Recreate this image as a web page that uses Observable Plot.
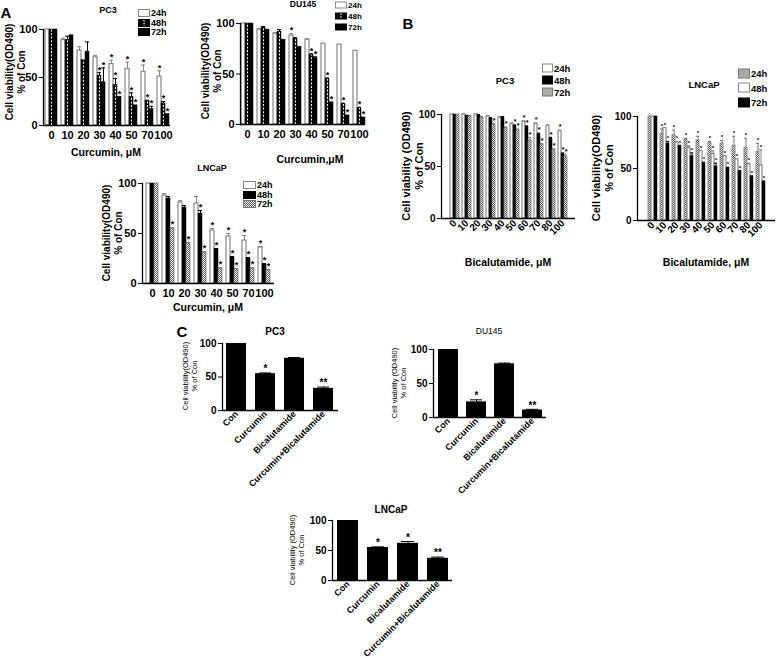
<!DOCTYPE html>
<html><head><meta charset="utf-8">
<script src="https://cdn.jsdelivr.net/npm/d3@7"></script>
<script src="https://cdn.jsdelivr.net/npm/@observablehq/plot@0.6"></script>
<style>
body{margin:0;background:#fff;}
#fig{position:relative;width:778px;height:658px;overflow:hidden;background:#fff;font-family:"Liberation Sans",Arial,Helvetica,sans-serif;color:#000;}
.abs{position:absolute;white-space:nowrap;}
#fig svg.p{position:absolute;overflow:visible;background:transparent;}
</style></head>
<body>
<svg width="0" height="0" style="position:absolute">
<defs>
<pattern id="chk" width="2" height="2" patternUnits="userSpaceOnUse">
<rect width="2" height="2" fill="#fff"/><rect width="1" height="1" fill="#555"/><rect x="1" y="1" width="1" height="1" fill="#555"/>
</pattern>
</defs></svg>
<div id="fig"></div>
<script>
// ---------- DATA ----------
const curcuminDoses = ["0","10","20","30","40","50","70","100"];
const bicaDoses = ["0","10","20","30","40","50","60","70","80","100"];
const times = ["24h","48h","72h"];
const treatments = ["Con","Curcumin","Bicalutamide","Curcumin+Bicalutamide"];

// A - PC3 (curcumin)
const aPC3_24h = [100, 89, 78, 71, 64, 59, 56, 51];
const aPC3_48h = [100, 89, 68, 52, 42, 30, 26, 23];
const aPC3_72h = [100, 94, 77, 45, 30, 21, 17, 12];
const aPC3_24hErr = [0, 2, 4, 2, 4, 7, 7, 6];
const aPC3_48hErr = [0, 4, 0, 3, 7, 4, 0, 2];
const aPC3_72hErr = [0, 0, 10, 15, 0, 0, 3, 0];
const aPC3_24hSig = [0, 0, 0, 0, 1, 1, 1, 1];
const aPC3_48hSig = [0, 0, 0, 1, 1, 1, 1, 1];
const aPC3_72hSig = [0, 0, 0, 1, 1, 1, 1, 1];

// A - DU145 (curcumin)
const aDU_24h = [100, 94, 90, 88, 84, 80, 79, 73];
const aDU_48h = [100, 96, 92, 85, 69, 45, 20, 16];
const aDU_72h = [100, 94, 84, 77, 66, 22, 9, 7];
const aDU_24hErr = [0, 1, 1, 2, 1, 0, 0, 0];
const aDU_48hErr = [0, 1, 2, 1, 1, 1, 1, 1];
const aDU_72hErr = [0, 0, 0, 0, 1, 0, 0, 0];
const aDU_24hSig = [0, 0, 0, 1, 0, 0, 0, 0];
const aDU_48hSig = [0, 0, 0, 0, 1, 1, 1, 1];
const aDU_72hSig = [0, 0, 0, 0, 1, 1, 1, 1];

// A - LNCaP (curcumin)
const aLN_24h = [100, 88, 81, 80, 53, 47, 43, 36];
const aLN_48h = [100, 85, 76, 70, 34, 26, 25, 19];
const aLN_72h = [100, 55, 40, 31, 15, 14, 15, 13];
const aLN_24hErr = [0, 2, 2, 7, 2, 3, 5, 1];
const aLN_48hErr = [0, 2, 2, 3, 1, 1, 1, 1];
const aLN_72hErr = [0, 1, 1, 1, 1, 1, 1, 1];
const aLN_24hSig = [0, 0, 0, 0, 1, 1, 1, 1];
const aLN_48hSig = [0, 0, 0, 1, 1, 1, 1, 1];
const aLN_72hSig = [0, 1, 1, 1, 1, 1, 1, 1];

// B - PC3 (bicalutamide)
const bPC3_24h = [100, 100, 100, 98, 97, 91, 93, 91, 89, 84];
const bPC3_48h = [100, 99, 99, 96, 97, 89, 88, 81, 77, 62];
const bPC3_72h = [100, 98, 97, 90, 87, 85, 75, 71, 66, 59];
const bPC3_24hErr = [0, 1, 1, 1, 1, 1, 1, 1, 1, 1];
const bPC3_48hErr = [0, 0, 1, 1, 1, 1, 1, 1, 1, 1];
const bPC3_72hErr = [0, 1, 1, 1, 1, 1, 3, 1, 1, 2];
const bPC3_24hSig = [0, 0, 0, 0, 0, 0, 1, 1, 0, 1];
const bPC3_48hSig = [0, 0, 0, 0, 0, 1, 1, 1, 1, 1];
const bPC3_72hSig = [0, 0, 0, 1, 1, 1, 1, 1, 1, 1];

// B - LNCaP (bicalutamide)
const bLN_24h = [100, 83, 82, 78, 77, 75, 74, 72, 70, 66];
const bLN_48h = [100, 89, 75, 70, 67, 64, 62, 59, 54, 53];
const bLN_72h = [100, 74, 72, 62, 55, 52, 51, 47, 42, 37];
const bLN_24hErr = [0, 5, 5, 1, 4, 1, 3, 9, 9, 8];
const bLN_48hErr = [0, 0, 1, 2, 0, 3, 0, 0, 1, 15];
const bLN_72hErr = [0, 2, 0, 3, 1, 3, 0, 1, 1, 1];
const bLN_24hSig = [0, 1, 1, 1, 1, 1, 1, 1, 1, 1];
const bLN_48hSig = [0, 1, 1, 1, 1, 1, 1, 1, 1, 1];
const bLN_72hSig = [0, 1, 1, 1, 1, 1, 1, 1, 1, 1];

// C - combination
const cPC3 = [100, 55, 78, 33];
const cPC3Err = [0, 1, 1, 2];
const cPC3Sig = ["", "*", "", "**"];
const cDU = [100, 23, 79, 11];
const cDUErr = [0, 3, 1, 1];
const cDUSig = ["", "*", "", "**"];
const cLN = [100, 55, 62, 37];
const cLNErr = [0, 1, 3, 2];
const cLNSig = ["", "*", "*", "**"];

// ---------- STYLES ----------
const FONT = '"Liberation Sans", Arial, Helvetica, sans-serif';
const ST = {
  white: {fill: "#fff", stroke: "#888", sw: 1.2, err: "#888"},
  black: {fill: "#000", stroke: "#000", sw: 0.5, err: "#000"},
  dash:  {fill: "#000", stroke: "#000", sw: 0.5, err: "#000", dash: true},
  chk:   {fill: "url(#chk)", stroke: "#777", sw: 0.8, err: "#777"}
};
const fig = document.getElementById("fig");

function addText(html, x, y, o = {}) {
  const d = document.createElement("div");
  d.className = "abs";
  d.style.left = x + "px"; d.style.top = y + "px";
  d.style.fontSize = (o.size || 10) + "px";
  d.style.fontWeight = o.weight || "bold";
  d.style.lineHeight = (o.lh || 1.15);
  d.style.textAlign = "center";
  const tx = o.anchor === "start" ? "0" : o.anchor === "end" ? "-100%" : "-50%";
  d.style.transform = `translate(${tx},-50%)` + (o.rotate ? ` rotate(${o.rotate}deg)` : "");
  d.innerHTML = html;
  fig.appendChild(d);
}

function swatch(st, w, h) {
  let s = `<svg width="${w}" height="${h}" style="vertical-align:middle;overflow:visible"><rect x="0.5" y="0.5" width="${w-1}" height="${h-1}" fill="${st.fill}" stroke="${st.stroke}" stroke-width="1"/>`;
  if (st.dash) s += `<line x1="${w/2}" x2="${w/2}" y1="1" y2="${h-1}" stroke="#fff" stroke-width="1.2" stroke-dasharray="1.5,1.2"/>`;
  return s + `</svg>`;
}
function legend(x, y, labels, styles, o) {
  labels.forEach((lab, i) => {
    const d = document.createElement("div");
    d.className = "abs";
    d.style.left = x + "px"; d.style.top = (y + i * o.gap) + "px";
    d.style.transform = "translateY(-50%)";
    d.style.fontSize = o.size + "px"; d.style.fontWeight = "bold";
    d.style.display = "flex"; d.style.alignItems = "center"; d.style.gap = "1px";
    d.innerHTML = swatch(styles[i], o.w, o.h) + `<span>${lab}</span>`;
    fig.appendChild(d);
  });
}

function place(svg, left, top) {
  svg.classList.add("p");
  svg.style.left = left + "px"; svg.style.top = top + "px";
  fig.appendChild(svg);
}

function grouped(cfg) {
  const rows = [], domain = [], mids = [];
  cfg.cats.forEach((c, i) => {
    cfg.series.forEach((s, j) => {
      const key = c + "|" + s;
      domain.push(key);
      if (j === 1) mids.push(key);
      rows.push({key, j, v: cfg.vals[j][i], e: cfg.errs[j][i], sig: cfg.sigs[j][i]});
    });
    if (i < cfg.cats.length - 1) domain.push("gap" + i);
  });
  const marks = [];
  cfg.series.forEach((s, j) => {
    const st = cfg.styles[j];
    const data = rows.filter(r => r.j === j);
    marks.push(Plot.barY(data, {x: "key", y: "v", fill: st.fill, stroke: st.stroke, strokeWidth: st.sw}));
    if (st.dash) marks.push(Plot.ruleX(data, {x: "key", y1: 0, y2: "v", stroke: "#fff", strokeWidth: 1.1, strokeDasharray: "2,1.6"}));
    const ed = data.filter(r => r.e > 0);
    marks.push(Plot.ruleX(ed, {x: "key", y1: "v", y2: d => d.v + d.e, stroke: st.err, strokeWidth: 1}));
    marks.push(Plot.tickY(ed, {x: "key", y: d => d.v + d.e, stroke: st.err, strokeWidth: 1}));
    marks.push(Plot.text(data.filter(r => r.sig), {x: "key", y: d => d.v + d.e, text: () => "*", dy: -3, lineAnchor: "middle", fontSize: cfg.starSize || 9, fontWeight: "bold"}));
  });
  marks.push(Plot.ruleY([0], {stroke: "#000", strokeWidth: 1.3}));
  marks.push(Plot.frame({anchor: "left", stroke: "#000", strokeWidth: 1.3}));
  marks.push(Plot.axisY({ticks: [0, 50, 100], tickSize: 4, tickPadding: 2, label: null}));
  marks.push(Plot.axisX({ticks: mids, tickFormat: k => k.split("|")[0], tickSize: 0,
    tickPadding: cfg.tickPadding || 6, tickRotate: cfg.rotate || 0, label: null}));
  const svg = Plot.plot({
    width: cfg.width, height: cfg.height,
    marginLeft: cfg.mL, marginRight: cfg.mR, marginTop: cfg.mT, marginBottom: cfg.mB,
    x: {type: "band", domain, paddingInner: 0.12, paddingOuter: 0.05},
    y: {domain: [0, 100]},
    style: {fontFamily: FONT, fontSize: (cfg.tickSize || 11) + "px", fontWeight: "bold", color: "#000", background: "transparent"},
    marks
  });
  place(svg, cfg.left, cfg.top);
}

function simple(cfg) {
  const rows = cfg.cats.map((c, i) => ({c, v: cfg.vals[i], e: cfg.errs[i], sig: cfg.sigs[i]}));
  const ed = rows.filter(r => r.e > 0);
  const svg = Plot.plot({
    width: cfg.width, height: cfg.height,
    marginLeft: cfg.mL, marginRight: cfg.mR, marginTop: cfg.mT, marginBottom: cfg.mB,
    x: {type: "band", domain: cfg.cats, paddingInner: 0.3, paddingOuter: 0.15},
    y: {domain: [0, 100]},
    style: {fontFamily: FONT, fontSize: "10px", fontWeight: "bold", color: "#000", background: "transparent"},
    marks: [
      Plot.barY(rows, {x: "c", y: "v", fill: "#000"}),
      Plot.ruleX(ed, {x: "c", y1: "v", y2: d => d.v + d.e, stroke: "#000", strokeWidth: 1}),
      Plot.tickY(ed, {x: "c", y: d => d.v + d.e, stroke: "#000", strokeWidth: 1, insetLeft: 4, insetRight: 4}),
      Plot.text(rows.filter(r => r.sig), {x: "c", y: d => d.v + d.e, text: "sig", dy: -4, lineAnchor: "middle", fontSize: 10, fontWeight: "bold"}),
      Plot.ruleY([0], {stroke: "#000", strokeWidth: 1.3}),
      Plot.frame({anchor: "left", stroke: "#000", strokeWidth: 1.3}),
      Plot.axisY({ticks: [0, 50, 100], tickSize: 4, tickPadding: 2, label: null}),
      Plot.axisX({tickSize: 0, tickPadding: 2, tickRotate: -45, label: null, fontSize: 9})
    ]
  });
  place(svg, cfg.left, cfg.top);
}

// ---------- PANEL A ----------
addText("A", 6, 13, {size: 15});
grouped({cats: curcuminDoses, series: times,
  vals: [aPC3_24h, aPC3_48h, aPC3_72h], errs: [aPC3_24hErr, aPC3_48hErr, aPC3_72hErr], sigs: [aPC3_24hSig, aPC3_48hSig, aPC3_72hSig],
  styles: [ST.white, ST.dash, ST.black],
  left: 0, top: 0, width: 175, height: 165, mL: 43, mR: 5, mT: 29, mB: 40});
addText("PC3", 108, 10, {size: 9});
legend(138, 13, times, [ST.white, ST.dash, ST.black], {gap: 9.5, size: 9, w: 12, h: 8});
addText("Cell viability(OD490)<br>% of Con", 16, 72, {size: 10, rotate: -90, lh: 1.2});
addText("Curcumin, \u03bcM", 106, 152, {size: 10.5});

grouped({cats: curcuminDoses, series: times,
  vals: [aDU_24h, aDU_48h, aDU_72h], errs: [aDU_24hErr, aDU_48hErr, aDU_72hErr], sigs: [aDU_24hSig, aDU_48hSig, aDU_72hSig],
  styles: [ST.white, ST.dash, ST.black],
  left: 195, top: 0, width: 175, height: 150, mL: 45, mR: 5, mT: 23, mB: 26});
addText("DU145", 303, 5, {size: 8.5});
legend(335, 5, times, [ST.white, ST.dash, ST.black], {gap: 11, size: 8, w: 12, h: 7});
addText("Cell viability(OD490)<br>% of Con", 212, 71, {size: 10, rotate: -90, lh: 1.2});
addText("Curcumin,\u03bcM", 310, 159, {size: 10.5});

grouped({cats: curcuminDoses, series: times,
  vals: [aLN_24h, aLN_48h, aLN_72h], errs: [aLN_24hErr, aLN_48hErr, aLN_72hErr], sigs: [aLN_24hSig, aLN_48hSig, aLN_72hSig],
  styles: [ST.white, ST.black, ST.chk],
  left: 95, top: 170, width: 185, height: 135, mL: 47, mR: 6, mT: 13, mB: 22});
addText("LNCaP", 212, 168, {size: 9});
legend(243, 185, times, [ST.white, ST.black, ST.chk], {gap: 9.5, size: 9, w: 13, h: 8});
addText("Cell viability(OD490)<br>% of Con", 113, 233, {size: 10, rotate: -90, lh: 1.2});
addText("Curcumin, \u03bcM", 208, 307, {size: 10.5});

// ---------- PANEL B ----------
addText("B", 408, 24, {size: 15});
grouped({cats: bicaDoses, series: times,
  vals: [bPC3_24h, bPC3_48h, bPC3_72h], errs: [bPC3_24hErr, bPC3_48hErr, bPC3_72hErr], sigs: [bPC3_24hSig, bPC3_48hSig, bPC3_72hSig],
  styles: [ST.white, ST.black, ST.chk], rotate: -45, tickPadding: 3, tickSize: 10, starSize: 7,
  left: 420, top: 100, width: 165, height: 160, mL: 21, mR: 10, mT: 14, mB: 42});
addText("PC3", 505, 81, {size: 9.5});
legend(542, 68, times, [ST.white, ST.black, ST.chk], {gap: 12, size: 9.5, w: 11, h: 9});
addText("Cell viability (OD490)<br>% of Con", 413, 166, {size: 11, rotate: -90, lh: 1.15});
addText("Bicalutamide, \u03bcM", 508, 262, {size: 10.5});

grouped({cats: bicaDoses, series: times,
  vals: [bLN_24h, bLN_48h, bLN_72h], errs: [bLN_24hErr, bLN_48hErr, bLN_72hErr], sigs: [bLN_24hSig, bLN_48hSig, bLN_72hSig],
  styles: [ST.chk, ST.white, ST.black], rotate: -45, tickPadding: 3, tickSize: 10, starSize: 6,
  left: 615, top: 100, width: 163, height: 160, mL: 22, mR: 3, mT: 16, mB: 40});
addText("LNCaP", 704, 85, {size: 9.5});
legend(738, 73, times, [ST.chk, ST.white, ST.black], {gap: 14.5, size: 9.5, w: 12, h: 10});
addText("Cell viability(OD490)<br>% of Con", 603, 168, {size: 11, rotate: -90, lh: 1.15});
addText("Bicalutamide, \u03bcM", 706, 262, {size: 10.5});

// ---------- PANEL C ----------
addText("C", 182, 332, {size: 15});
simple({cats: treatments, vals: cPC3, errs: cPC3Err, sigs: cPC3Sig,
  left: 195, top: 330, width: 150, height: 170, mL: 27, mR: 7, mT: 13, mB: 90});
addText("PC3", 275, 332, {size: 10});
addText("Cell viability(OD490)<br>% of Con", 190, 376, {size: 7.5, weight: "normal", rotate: -90, lh: 1.2});

simple({cats: treatments, vals: cDU, errs: cDUErr, sigs: cDUSig,
  left: 405, top: 330, width: 150, height: 170, mL: 28, mR: 9, mT: 19, mB: 83});
addText("DU145", 489, 332, {size: 8.5, weight: "normal"});
addText("Cell viability (OD490)<br>% of Con", 399, 383, {size: 7.5, weight: "normal", rotate: -90, lh: 1.2});

simple({cats: treatments, vals: cLN, errs: cLNErr, sigs: cLNSig,
  left: 300, top: 502, width: 160, height: 156, mL: 32, mR: 8, mT: 18, mB: 78});
addText("LNCaP", 391, 510, {size: 10});
addText("Cell viability (OD490)<br>% of Con", 297, 550, {size: 7.5, weight: "normal", rotate: -90, lh: 1.2});
</script>
</body></html>
